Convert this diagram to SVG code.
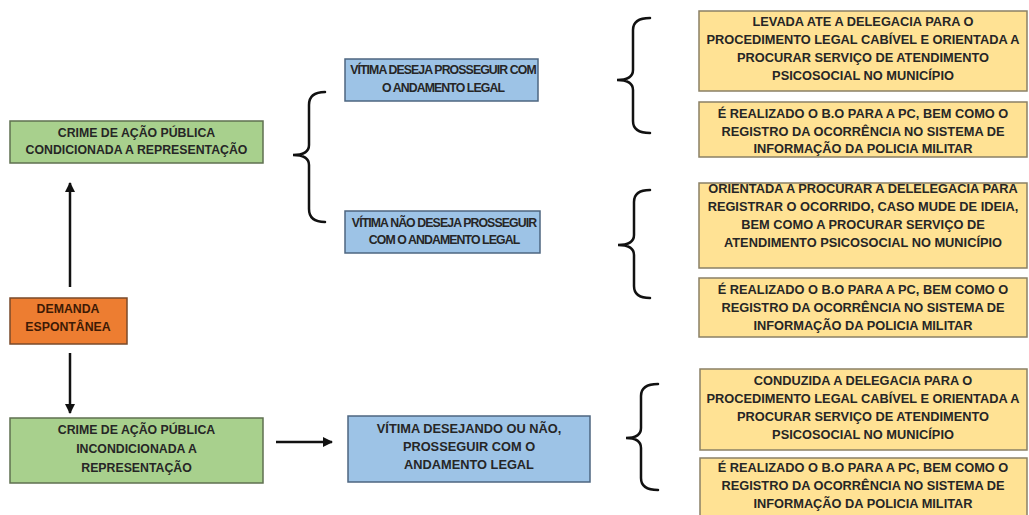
<svg xmlns="http://www.w3.org/2000/svg" width="1029" height="515" viewBox="0 0 1029 515">
<style>
.t{font-family:"Liberation Sans",Arial,sans-serif;font-weight:bold;font-size:12.8px;fill:#262626;text-anchor:middle;dominant-baseline:central}
.s{font-size:12.3px;letter-spacing:-0.9px}
.m{font-size:12.3px}
.g{fill:#a8d08d;stroke:#5f7050;stroke-width:1.5}
.o{fill:#ed7d31;stroke:#7a4a2a;stroke-width:1.5}
.b{fill:#9dc3e6;stroke:#4d6680;stroke-width:1.5}
.y{fill:#ffe294;stroke:#8a8066;stroke-width:1.5}
.br{fill:none;stroke:#111;stroke-width:2.5;stroke-linecap:round}
.ar{stroke:#111;stroke-width:2.5;fill:none}
</style>
<defs>
<marker id="ah" viewBox="0 0 10 10" refX="9" refY="5" markerWidth="4" markerHeight="4" orient="auto" markerUnits="strokeWidth">
<path d="M0,0 L10,5 L0,10 z" fill="#111"/>
</marker>
</defs>
<rect width="1029" height="515" fill="#fff"/>
<g id="connectors">
<line class="ar" x1="70" y1="287" x2="70" y2="183" marker-end="url(#ah)"/>
<line class="ar" x1="70" y1="353" x2="70" y2="413" marker-end="url(#ah)"/>
<line class="ar" x1="276" y1="442" x2="332" y2="442" marker-end="url(#ah)"/>
<path class="br" d="M325,92 Q309,92 309,105 L309,145 Q309,155 293,155 Q309,155 309,165 L309,209 Q309,222 325,222"/>
<path class="br" d="M650,18 Q633,18 633,30 L633,70 Q633,80 617,80 Q633,80 633,90 L633,121 Q633,133 650,133"/>
<path class="br" d="M650,190 Q634,190 634,202 L634,235 Q634,245 618,245 Q634,245 634,255 L634,286 Q634,298 650,298"/>
<path class="br" d="M658,384 Q641,384 641,396 L641,428 Q641,438 626,438 Q641,438 641,448 L641,478 Q641,490 658,490"/>
</g>
<g id="n-demanda">
<rect class="o" x="10" y="298" width="117" height="46"/>
<text class="t m" x="68" y="309" style="fill:#3d1a05">DEMANDA</text>
<text class="t m" x="68" y="327" style="fill:#3d1a05">ESPONTÂNEA</text>
</g>
<g id="n-condicionada">
<rect class="g" x="10" y="121" width="253" height="42"/>
<text class="t m" x="136.5" y="133">CRIME DE AÇÃO PÚBLICA</text>
<text class="t m" x="136.5" y="150">CONDICIONADA A REPRESENTAÇÃO</text>
</g>
<g id="n-incondicionada">
<rect class="g" x="10" y="418" width="253" height="65"/>
<text class="t m" x="136.5" y="430">CRIME DE AÇÃO PÚBLICA</text>
<text class="t m" x="136.5" y="449">INCONDICIONADA A</text>
<text class="t m" x="136.5" y="468">REPRESENTAÇÃO</text>
</g>
<g id="n-deseja">
<rect class="b" x="345" y="59" width="193" height="42"/>
<text class="t s" x="443" y="70">VÍTIMA DESEJA PROSSEGUIR COM</text>
<text class="t s" x="443" y="88">O ANDAMENTO LEGAL</text>
</g>
<g id="n-naodeseja">
<rect class="b" x="345" y="211" width="195" height="42"/>
<text class="t s" x="444" y="223">VÍTIMA NÃO DESEJA PROSSEGUIR</text>
<text class="t s" x="444" y="240">COM O ANDAMENTO LEGAL</text>
</g>
<g id="n-desejandoounao">
<rect class="b" x="348" y="416" width="242" height="66"/>
<text class="t" x="469" y="428">VÍTIMA DESEJANDO OU NÃO,</text>
<text class="t" x="469" y="446">PROSSEGUIR COM O</text>
<text class="t" x="469" y="464">ANDAMENTO LEGAL</text>
</g>
<g id="n-levada">
<rect class="y" x="699" y="11" width="328" height="80"/>
<text class="t" x="863" y="21">LEVADA ATE A DELEGACIA PARA O</text>
<text class="t" x="863" y="39">PROCEDIMENTO LEGAL CABÍVEL E ORIENTADA A</text>
<text class="t" x="863" y="57">PROCURAR SERVIÇO DE ATENDIMENTO</text>
<text class="t" x="863" y="75">PSICOSOCIAL NO MUNICÍPIO</text>
</g>
<g id="n-bo1">
<rect class="y" x="699" y="102" width="328" height="55"/>
<text class="t" x="863" y="113">É REALIZADO O B.O PARA A PC, BEM COMO O</text>
<text class="t" x="863" y="131">REGISTRO DA OCORRÊNCIA NO SISTEMA DE</text>
<text class="t" x="863" y="148">INFORMAÇÃO DA POLICIA MILITAR</text>
</g>
<g id="n-orientada">
<rect class="y" x="699" y="183" width="328" height="85"/>
<text class="t" x="863" y="188">ORIENTADA A PROCURAR A DELELEGACIA PARA</text>
<text class="t" x="863" y="206">REGISTRAR O OCORRIDO, CASO MUDE DE IDEIA,</text>
<text class="t" x="863" y="224">BEM COMO A PROCURAR SERVIÇO DE</text>
<text class="t" x="863" y="242">ATENDIMENTO PSICOSOCIAL NO MUNICÍPIO</text>
</g>
<g id="n-bo2">
<rect class="y" x="699" y="278" width="328" height="59"/>
<text class="t" x="863" y="289">É REALIZADO O B.O PARA A PC, BEM COMO O</text>
<text class="t" x="863" y="307">REGISTRO DA OCORRÊNCIA NO SISTEMA DE</text>
<text class="t" x="863" y="325">INFORMAÇÃO DA POLICIA MILITAR</text>
</g>
<g id="n-conduzida">
<rect class="y" x="700" y="369" width="327" height="81"/>
<text class="t" x="863" y="380">CONDUZIDA A DELEGACIA PARA O</text>
<text class="t" x="863" y="398">PROCEDIMENTO LEGAL CABÍVEL E ORIENTADA A</text>
<text class="t" x="863" y="416">PROCURAR SERVIÇO DE ATENDIMENTO</text>
<text class="t" x="863" y="434">PSICOSOCIAL NO MUNICÍPIO</text>
</g>
<g id="n-bo3">
<rect class="y" x="700" y="458" width="327" height="62"/>
<text class="t" x="863" y="467">É REALIZADO O B.O PARA A PC, BEM COMO O</text>
<text class="t" x="863" y="485">REGISTRO DA OCORRÊNCIA NO SISTEMA DE</text>
<text class="t" x="863" y="503">INFORMAÇÃO DA POLICIA MILITAR</text>
</g>
</svg>
